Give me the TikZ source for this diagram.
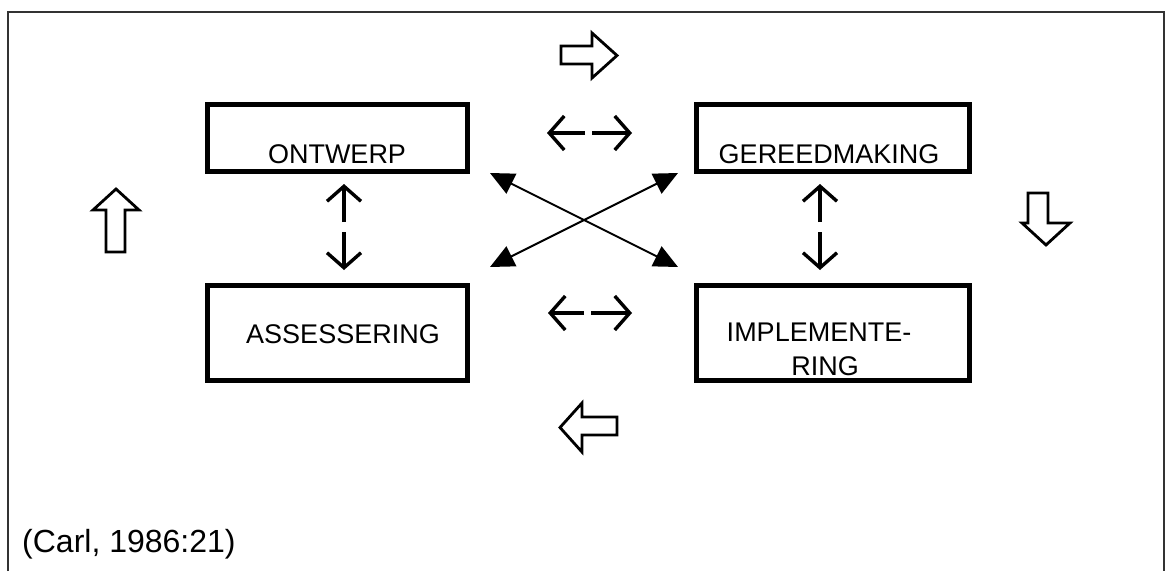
\documentclass[tikz,border=0pt]{standalone}
\usepackage{fontspec}
\setmainfont{Liberation Sans}
\usetikzlibrary{arrows.meta,calc}
\begin{document}
\begin{tikzpicture}[x=1pt,y=-1pt,
  frame/.style={draw=black!80,line width=2},
  box/.style={draw=black,line width=5,inner sep=0,outer sep=0},
  lbl/.style={inner sep=0,anchor=base,font=\fontsize{27}{30}\selectfont},
  dbl/.style={line width=3.4,-{Straight Barb[length=15,width=34,line width=3.4]}},
  cross/.style={line width=2,{Triangle[length=24,width=22]}-{Triangle[length=24,width=22]}},
  block/.style={draw=black,line width=2.8,line join=miter,fill=white}]
\useasboundingbox (0,0) rectangle (1168,571);
\draw[frame] (8,571) -- (8,12) -- (1164,12) -- (1164,571);
% boxes
\node[box,minimum width=260,minimum height=67] (ont) at (337.5,138) {};
\node[box,minimum width=273,minimum height=67] (ger) at (833,138) {};
\node[box,minimum width=260,minimum height=95] (ass) at (337.5,333) {};
\node[box,minimum width=273,minimum height=95] (imp) at (833,333) {};
\node[lbl] (tont) at (337,163) {ONTWERP};
\node[lbl] (tger) at (829,163) {GEREEDMAKING};
\node[lbl] (tass) at (343,343) {ASSESSERING};
\node[lbl] (timp1) at (819,341) {IMPLEMENTE-};
\node[lbl] (timp2) at (825,375) {RING};
% thin double arrows
\coordinate (h1a) at (585,133); \coordinate (h1b) at (547,133);
\coordinate (h1c) at (592,133); \coordinate (h1d) at (632,133);
\draw[dbl] (h1a) -- (h1b); \draw[dbl] (h1c) -- (h1d);
\coordinate (h2a) at (584,313); \coordinate (h2b) at (548,313);
\coordinate (h2c) at (591,313); \coordinate (h2d) at (632,313);
\draw[dbl] (h2a) -- (h2b); \draw[dbl] (h2c) -- (h2d);
\coordinate (v1a) at (344,222); \coordinate (v1b) at (344,184);
\coordinate (v1c) at (344,232); \coordinate (v1d) at (344,270);
\draw[dbl] (v1a) -- (v1b); \draw[dbl] (v1c) -- (v1d);
\coordinate (v2a) at (820,222); \coordinate (v2b) at (820,184);
\coordinate (v2c) at (820,232); \coordinate (v2d) at (820,270);
\draw[dbl] (v2a) -- (v2b); \draw[dbl] (v2c) -- (v2d);
% crossing arrows
\coordinate (c1) at (490,173); \coordinate (c2) at (678,267);
\coordinate (c3) at (678,173); \coordinate (c4) at (490,267);
\draw[cross] (c1) -- (c2);
\draw[cross] (c3) -- (c4);
% block arrows
\draw[block] (561,46) -- (592,46) -- (592,33) -- (617,55.5) -- (592,78) -- (592,64) -- (561,64) -- cycle;
\draw[block] (106,252) -- (106,210) -- (93,210) -- (116,189) -- (139,210) -- (125,210) -- (125,252) -- cycle;
\draw[block] (1028,193) -- (1048,193) -- (1048,223) -- (1070,223) -- (1046,245) -- (1022,223) -- (1028,223) -- cycle;
\draw[block] (617,417) -- (582,417) -- (582,403) -- (560,427.5) -- (582,452) -- (582,435) -- (617,435) -- cycle;
% citation
\node[inner sep=0,anchor=base west,font=\fontsize{32}{36}\selectfont] (cit) at (22,552) {(Carl, 1986:21)};
\end{tikzpicture}
\end{document}
